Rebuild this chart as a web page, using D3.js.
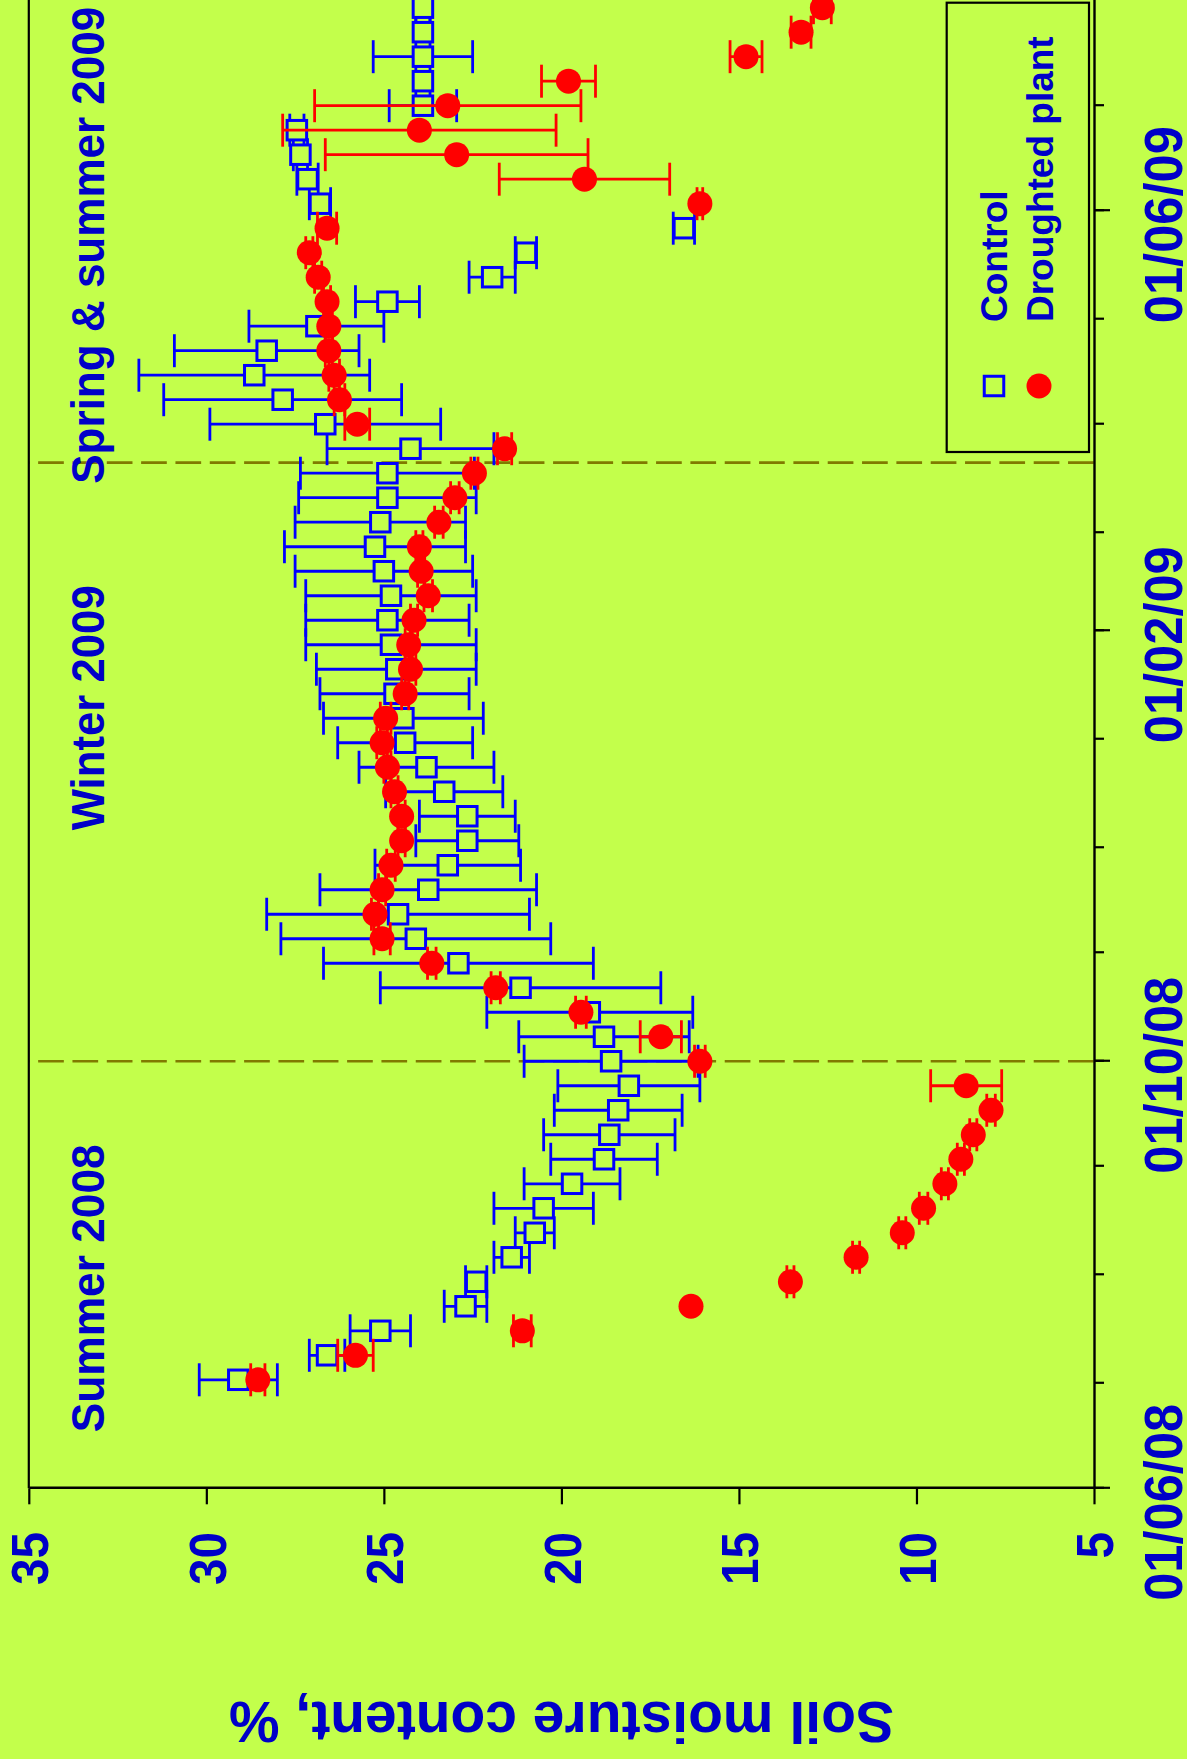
<!DOCTYPE html>
<html><head><meta charset="utf-8">
<script src="https://cdn.jsdelivr.net/npm/d3@7"></script>
<style>html,body{margin:0;padding:0;background:#C3FF4B;}svg{display:block}</style>
</head><body>
<svg id="chart" width="1187" height="1759"></svg>
<script>
// ---------------- DATA ----------------
const dates = [
  "2008-07-02","2008-07-09","2008-07-16","2008-07-23","2008-07-30","2008-08-06","2008-08-13","2008-08-20",
  "2008-08-27","2008-09-03","2008-09-10","2008-09-17","2008-09-24","2008-10-01","2008-10-08","2008-10-15",
  "2008-10-22","2008-10-29","2008-11-05","2008-11-12","2008-11-19","2008-11-26","2008-12-03","2008-12-10",
  "2008-12-17","2008-12-24","2008-12-31","2009-01-07","2009-01-14","2009-01-21","2009-01-28","2009-02-04",
  "2009-02-11","2009-02-18","2009-02-25","2009-03-04","2009-03-11","2009-03-18","2009-03-25","2009-04-01",
  "2009-04-08","2009-04-15","2009-04-22","2009-04-29","2009-05-06","2009-05-13","2009-05-20","2009-05-27",
  "2009-06-03","2009-06-10","2009-06-17","2009-06-24","2009-07-01","2009-07-08","2009-07-15","2009-07-22",
  "2009-07-29"
];
const controlMean = [
  29.1,26.6,25.1,22.7,22.4,21.4,20.75,20.5,19.7,18.8,18.65,18.4,18.1,18.6,18.8,19.2,
  21.15,22.9,24.1,24.6,23.75,23.2,22.65,22.65,23.3,23.8,24.4,24.45,24.7,24.65,24.8,24.9,
  24.8,25.0,25.25,25.1,24.9,24.9,24.25,26.65,27.85,28.65,28.3,26.9,24.9,21.95,21.0,16.55,
  26.8,27.15,27.35,27.45,23.9,23.9,23.9,23.9,23.9
];
const controlErr = [
  1.1,0.5,0.85,0.6,0.3,0.5,0.55,1.4,1.35,1.5,1.85,1.8,2.0,2.45,2.4,2.9,
  3.95,3.8,3.8,3.7,3.05,2.05,1.45,1.35,1.65,1.9,1.9,2.25,2.1,2.25,2.4,2.3,
  2.4,2.5,2.55,2.4,2.5,2.45,2.35,3.25,3.35,3.25,2.6,1.9,0.9,0.65,0.3,0.3,
  0.3,0.3,0.2,0.2,0.95,0.2,1.4,0.2,0.2
];
const droughtMean = [
  28.55,25.8,21.1,16.35,13.55,11.7,10.4,9.8,9.2,8.75,8.4,7.9,8.6,16.1,17.2,19.45,
  21.85,23.65,25.05,25.25,25.05,24.8,24.5,24.5,24.7,24.9,25.05,24.95,24.4,24.25,24.3,24.15,
  23.75,23.95,24.0,23.45,23.0,22.45,21.6,25.75,26.25,26.4,26.55,26.55,26.6,26.85,27.1,26.6,
  16.1,19.35,22.95,24.0,23.2,19.8,14.8,13.25,12.65
];
const droughtErr = [
  0.2,0.5,0.25,0,0.1,0.1,0.1,0.12,0.1,0.1,0.1,0.12,1.0,0.15,0.58,0.15,
  0.13,0.12,0.23,0.1,0.1,0.12,0.1,0.1,0.1,0.1,0.15,0.15,0.1,0.15,0.1,0.1,
  0.12,0.1,0.1,0.12,0.12,0.1,0.2,0.35,0.15,0.15,0.1,0.1,0.1,0.1,0.1,0.27,
  0.08,2.4,3.7,3.85,3.75,0.76,0.45,0.28,0.25
];
const valueTicks = [5,10,15,20,25,30,35];
const majorTickDates = ["2008-06-01","2008-10-01","2009-02-01","2009-06-01"];
const dateTickLabels = ["01/06/08","01/10/08","01/02/09","01/06/09"];
const seasonDividers = ["2008-10-01","2009-03-21"];
const seasonLabels = ["Summer 2008","Winter 2009","Spring & summer 2009"];
const seasonLabelDates = ["2008-06-17","2008-12-06","2009-03-15"];
const seriesNames = ["Control","Droughted plant"];
const yTitle = "Soil moisture content, %";

// ---------------- STYLE / LAYOUT ----------------
const BG = "#C3FF4B", TXT = "#0000C8", BLUE = "#0000FF", RED = "#FF0000", OLIVE = "#807A00";
const FONT = "'Liberation Sans', Arial, Helvetica, sans-serif";
const PAGE_W = 1187, PAGE_H = 1759;
const seasonLen = [288, 245, 477];
const SQ = 19.5, SQW = 3, ERRW = 2.8, CAP = 16.5, R = 12.5;

const svg = d3.select("#chart");
svg.append("rect").attr("width", PAGE_W).attr("height", PAGE_H).attr("fill", BG);
// chart drawn in landscape orientation then rotated 90deg counter-clockwise
const g = svg.append("g").attr("transform", `translate(0,${PAGE_H}) rotate(-90)`);

const parse = d3.utcParse("%Y-%m-%d");
const xStart = parse("2008-06-01"), xEnd = parse("2009-09-01");
const x = d3.scaleUtc().domain([xStart, parse("2009-06-01")]).range([270.7, 1548.3]);
const xa = x.copy().domain([xStart, xEnd]).range([x(xStart), x(xEnd)]);
const y = d3.scaleLinear().domain([5, 35]).range([1094, 28.8]);

// dashed season dividers
g.selectAll("line.div").data(seasonDividers).join("line")
  .attr("x1", d => x(parse(d))).attr("x2", d => x(parse(d)))
  .attr("y1", y(35)).attr("y2", y(5))
  .attr("stroke", OLIVE).attr("stroke-width", 2.7)
  .attr("stroke-dasharray", "25.7,8.63").attr("stroke-dashoffset", 25);

// frame top line (value 35)
g.append("line").attr("x1", x(xStart)).attr("x2", xa(xEnd)).attr("y1", y(35)).attr("y2", y(35))
  .attr("stroke", "#000").attr("stroke-width", 2.2);

// value axis
const yAx = g.append("g").attr("transform", `translate(${x(xStart)},0)`)
  .call(d3.axisLeft(y).tickValues(valueTicks).tickSize(16).tickSizeOuter(0).tickPadding(27.7));
yAx.select(".domain").attr("stroke", "#000").attr("stroke-width", 2.6);
yAx.selectAll(".tick line").attr("stroke", "#000").attr("stroke-width", 2.2);
yAx.selectAll(".tick text").attr("fill", TXT).attr("font-family", FONT).attr("font-weight", "bold")
  .attr("font-size", 52).attr("dy", "0.36em")
  .attr("textLength", d => String(d).length * 26.5).attr("lengthAdjust", "spacingAndGlyphs");

// date axis: monthly minor ticks
const minorTicks = d3.utcMonth.range(xStart, xEnd);
const xMin = g.append("g").attr("transform", `translate(0,${y(5)})`)
  .call(d3.axisBottom(xa).tickValues(minorTicks).tickSize(10).tickSizeOuter(0).tickFormat(""));
xMin.select(".domain").attr("stroke", "#000").attr("stroke-width", 2.4);
xMin.selectAll(".tick line").attr("stroke", "#000").attr("stroke-width", 2.2);
xMin.selectAll(".tick text").remove();

// date axis: major ticks + labels
const xMaj = g.append("g").attr("transform", `translate(0,${y(5)})`)
  .call(d3.axisBottom(xa).tickValues(majorTickDates.map(parse)).tickSize(16).tickSizeOuter(0)
    .tickFormat((d, i) => dateTickLabels[i]));
xMaj.select(".domain").remove();
xMaj.selectAll(".tick line").attr("stroke", "#000").attr("stroke-width", 2.2);
xMaj.selectAll(".tick text").attr("fill", TXT).attr("font-family", FONT).attr("font-weight", "bold")
  .attr("font-size", 53).attr("y", 88).attr("dy", null).attr("x", -14.5)
  .attr("textLength", 197).attr("lengthAdjust", "spacingAndGlyphs");

// series rows
const rows = dates.map((d, i) => ({
  t: parse(d), c: controlMean[i], ce: controlErr[i], dm: droughtMean[i], de: droughtErr[i]
}));

function errorBars(sel, key, errKey, color) {
  const gg = sel.append("g").attr("stroke", color).attr("stroke-width", ERRW).attr("fill", "none");
  const r = rows.filter(d => d[errKey] > 0);
  gg.selectAll("line.v").data(r).join("line")
    .attr("x1", d => x(d.t)).attr("x2", d => x(d.t))
    .attr("y1", d => y(d[key] - d[errKey])).attr("y2", d => y(d[key] + d[errKey]));
  gg.selectAll("line.lo").data(r).join("line")
    .attr("x1", d => x(d.t) - CAP).attr("x2", d => x(d.t) + CAP)
    .attr("y1", d => y(d[key] - d[errKey])).attr("y2", d => y(d[key] - d[errKey]));
  gg.selectAll("line.hi").data(r).join("line")
    .attr("x1", d => x(d.t) - CAP).attr("x2", d => x(d.t) + CAP)
    .attr("y1", d => y(d[key] + d[errKey])).attr("y2", d => y(d[key] + d[errKey]));
}

// control
errorBars(g, "c", "ce", BLUE);
g.append("g").selectAll("rect").data(rows).join("rect")
  .attr("x", d => x(d.t) - SQ / 2).attr("y", d => y(d.c) - SQ / 2).attr("width", SQ).attr("height", SQ)
  .attr("fill", BG).attr("stroke", BLUE).attr("stroke-width", SQW);

// droughted
errorBars(g, "dm", "de", RED);
g.append("g").selectAll("circle").data(rows).join("circle")
  .attr("cx", d => x(d.t)).attr("cy", d => y(d.dm)).attr("r", R).attr("fill", RED);

// season labels
g.selectAll("text.season").data(seasonLabels).join("text")
  .attr("x", (d, i) => x(parse(seasonLabelDates[i]))).attr("y", 104)
  .attr("fill", TXT).attr("font-family", FONT).attr("font-weight", "bold").attr("font-size", 47)
  .attr("textLength", (d, i) => seasonLen[i]).attr("lengthAdjust", "spacingAndGlyphs")
  .text(d => d);

// y title
g.append("text").attr("transform", `translate(57.3,${(y(5) + y(35)) / 2}) rotate(-90)`)
  .attr("text-anchor", "middle").attr("fill", TXT).attr("font-family", FONT)
  .attr("font-weight", "bold").attr("font-size", 57).text(yTitle);

// legend
const lg = g.append("g");
lg.append("rect").attr("x", 1307).attr("y", 946.7).attr("width", 449.3).attr("height", 142.3)
  .attr("fill", "none").attr("stroke", "#000").attr("stroke-width", 2.2);
lg.append("rect").attr("x", 1373 - SQ / 2).attr("y", 994 - SQ / 2).attr("width", SQ).attr("height", SQ)
  .attr("fill", BG).attr("stroke", BLUE).attr("stroke-width", SQW);
lg.append("circle").attr("cx", 1373).attr("cy", 1039).attr("r", R).attr("fill", RED);
lg.selectAll("text").data(seriesNames).join("text")
  .attr("x", 1437).attr("y", (d, i) => i === 0 ? 1006.5 : 1053)
  .attr("fill", TXT).attr("font-family", FONT).attr("font-weight", "bold").attr("font-size", 37)
  .text(d => d);
</script>
</body></html>
